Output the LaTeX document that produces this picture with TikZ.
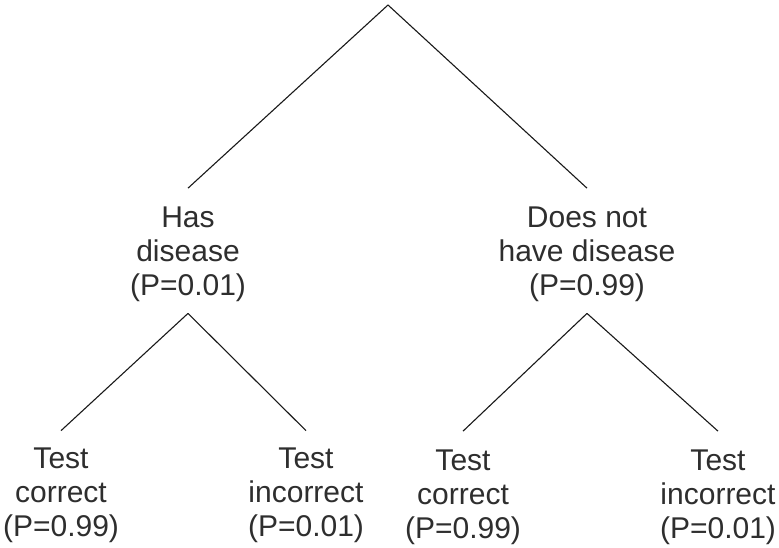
\documentclass[tikz,border=0pt]{standalone}
\usepackage{fontspec}
\setmainfont{Liberation Sans}
\begin{document}
\begin{tikzpicture}[x=1pt,y=-1pt,
  lbl/.style={align=center,inner xsep=0pt,inner ysep=0pt,text=black!82,
    font=\fontsize{30}{34}\selectfont,anchor=base},
  branch/.style={draw=black!90,line width=1.1pt}]
\useasboundingbox[fill=white] (0,0) rectangle (779,548);
\coordinate (top) at (388,5);
\node[lbl] (has) at (188,295) {Has\\disease\\(P=0.01)};
\node[lbl] (does) at (587,295) {Does not\\have disease\\(P=0.99)};
\node[lbl] (lc) at (61,536) {Test\\correct\\(P=0.99)};
\node[lbl] (li) at (306,536) {Test\\incorrect\\(P=0.01)};
\node[lbl] (rc) at (463,538) {Test\\correct\\(P=0.99)};
\node[lbl] (ri) at (718,538) {Test\\incorrect\\(P=0.01)};
\draw[branch] (top) -- ([yshift=18pt]has.north);
\draw[branch] (top) -- ([yshift=18pt]does.north);
\draw[branch] ([yshift=-12pt]has.south) -- ([yshift=16.5pt]lc.north);
\draw[branch] ([yshift=-12pt]has.south) -- ([yshift=16.5pt]li.north);
\draw[branch] ([yshift=-12pt]does.south) -- ([yshift=18pt]rc.north);
\draw[branch] ([yshift=-12pt]does.south) -- ([yshift=18pt]ri.north);
\end{tikzpicture}
\end{document}
